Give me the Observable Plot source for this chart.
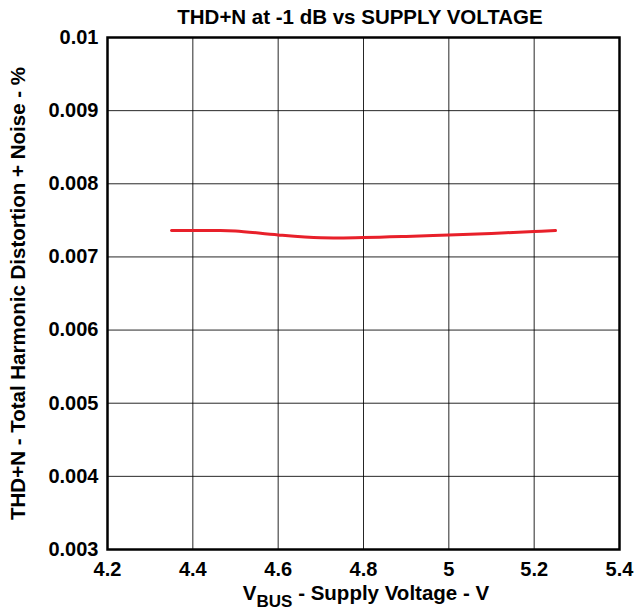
<!DOCTYPE html>
<html><head><meta charset="utf-8">
<script src="https://cdn.jsdelivr.net/npm/d3@7"></script>
<script src="https://cdn.jsdelivr.net/npm/@observablehq/plot@0.6"></script>
<style>
body{margin:0;background:#fff;}
svg{font-family:"Liberation Sans",Arial,sans-serif;}
</style></head>
<body><div id="chart"></div>
<script>
const voltage = [4.35, 4.45, 4.5, 4.6, 4.7, 4.8, 4.9, 5.0, 5.1, 5.2, 5.25];
const thdn = [0.00736, 0.00736, 0.007355, 0.0073, 0.007262, 0.007265, 0.00728, 0.0073, 0.007322, 0.007348, 0.00736];
const xTicks = [4.2, 4.4, 4.6, 4.8, 5, 5.2, 5.4];
const yTicks = [0.003, 0.004, 0.005, 0.006, 0.007, 0.008, 0.009, 0.01];
const title = "THD+N at -1 dB vs SUPPLY VOLTAGE";
const yLabel = "THD+N - Total Harmonic Distortion + Noise - %";

const data = voltage.map((v, i) => ({v, t: thdn[i]}));

const W = 635, H = 612;
const plot = Plot.plot({
  width: W, height: H,
  marginLeft: 107, marginRight: 16, marginTop: 37, marginBottom: 63,
  style: {fontFamily: '"Liberation Sans", Arial, sans-serif', fontWeight: "bold", fontSize: "20px", color: "#000", background: "#fff"},
  x: {domain: [4.2, 5.4], ticks: xTicks, tickFormat: d => String(d), label: null},
  y: {domain: [0.003, 0.01], ticks: yTicks, tickFormat: d => String(+d.toFixed(3)), label: null},
  marks: [
    Plot.gridX(xTicks, {stroke: "#000", strokeOpacity: 0.85, strokeWidth: 1}),
    Plot.gridY(yTicks, {stroke: "#000", strokeOpacity: 0.85, strokeWidth: 1}),
    Plot.axisX(xTicks, {tickSize: 0, tickPadding: 12, fontSize: 20, fontWeight: "bold", tickFormat: d => String(d), label: null}),
    Plot.axisY(yTicks, {tickSize: 0, tickPadding: 9, fontSize: 20, fontWeight: "bold", tickFormat: d => String(+d.toFixed(3)), label: null}),
    Plot.line(data, {x: "v", y: "t", stroke: "#e8202a", strokeWidth: 3, curve: "catmull-rom"}),
    Plot.frame({stroke: "#000", strokeWidth: 2.5})
  ]
});
document.getElementById("chart").appendChild(plot);

const svg = d3.select(plot);
svg.append("text").attr("x", 360).attr("y", 24).attr("text-anchor", "middle")
  .attr("font-size", 20.5).attr("font-weight", "bold").attr("fill", "#000").text(title);
svg.append("text").attr("transform", "translate(25,293.5) rotate(-90)").attr("text-anchor", "middle")
  .attr("font-size", 20.5).attr("font-weight", "bold").attr("fill", "#000").text(yLabel);
const xl = svg.append("text").attr("x", 366).attr("y", 600).attr("text-anchor", "middle")
  .attr("font-size", 20.5).attr("font-weight", "bold").attr("fill", "#000");
xl.append("tspan").text("V");
xl.append("tspan").attr("dy", 7).attr("font-size", 17).text("BUS");
xl.append("tspan").attr("dy", -7).text(" - Supply Voltage - V");
</script></body></html>
